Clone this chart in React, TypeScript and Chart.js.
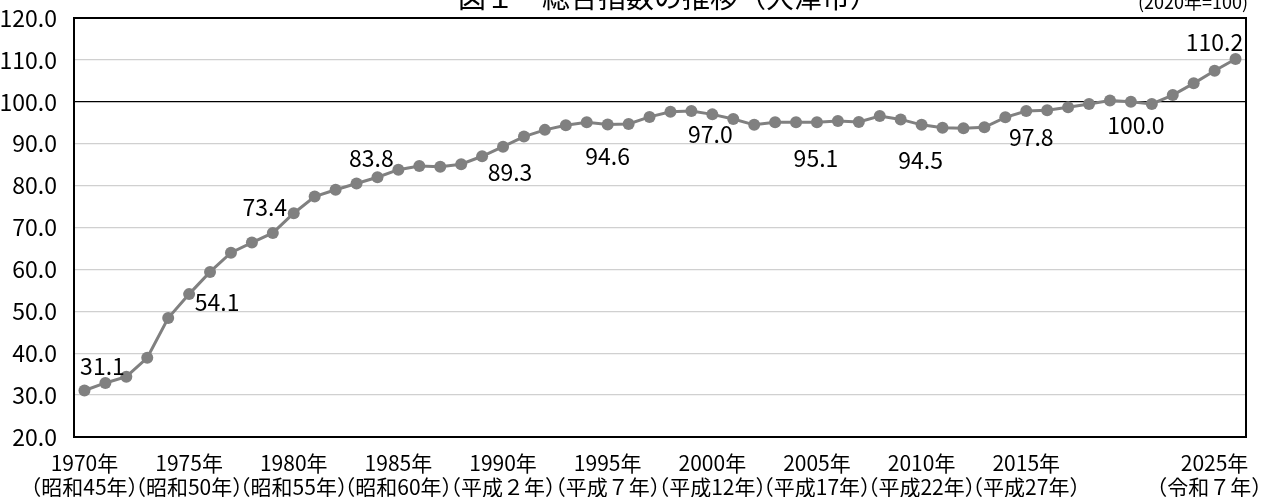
import { useEffect, useRef } from "react";
import { Chart, registerables } from "chart.js";

Chart.register(...registerables);

const YEARS = [
  1970, 1971, 1972, 1973, 1974, 1975, 1976, 1977, 1978, 1979,
  1980, 1981, 1982, 1983, 1984, 1985, 1986, 1987, 1988, 1989,
  1990, 1991, 1992, 1993, 1994, 1995, 1996, 1997, 1998, 1999,
  2000, 2001, 2002, 2003, 2004, 2005, 2006, 2007, 2008, 2009,
  2010, 2011, 2012, 2013, 2014, 2015, 2016, 2017, 2018, 2019,
  2020, 2021, 2022, 2023, 2024, 2025,
];

const INDEX = [
  31.1, 32.9, 34.4, 38.9, 48.4, 54.1, 59.4, 64.0, 66.4, 68.7,
  73.4, 77.4, 79.0, 80.5, 82.0, 83.8, 84.7, 84.5, 85.1, 87.0,
  89.3, 91.7, 93.3, 94.4, 95.1, 94.6, 94.7, 96.4, 97.6, 97.8,
  97.0, 95.9, 94.5, 95.1, 95.1, 95.1, 95.4, 95.2, 96.6, 95.8,
  94.5, 93.8, 93.7, 93.9, 96.3, 97.8, 98.0, 98.7, 99.5, 100.3,
  100.0, 99.5, 101.6, 104.4, 107.4, 110.2,
];

const TICK_YEARS = [1970, 1975, 1980, 1985, 1990, 1995, 2000, 2005, 2010, 2015, 2025];
const TICK_LINE1 = ["1970年", "1975年", "1980年", "1985年", "1990年", "1995年", "2000年", "2005年", "2010年", "2015年", "2025年"];
const TICK_LINE2 = ["（昭和45年）", "（昭和50年）", "（昭和55年）", "（昭和60年）", "（平成２年）", "（平成７年）", "（平成12年）", "（平成17年）", "（平成22年）", "（平成27年）", "（令和７年）"];

const LABEL_YEARS = [1970, 1975, 1980, 1985, 1990, 1995, 2000, 2005, 2010, 2015, 2020, 2025];

const Y_MIN = 20;
const Y_MAX = 120;
const Y_STEP = 10;

const TITLE = "図１　総合指数の推移（大津市）";
const SUBTITLE = "(2020年=100)";

// layout / style (not data)
const LABEL_OFFSETS: [number, number][] = [
  [18, -24], [28, 8], [-29, -6], [-27, -11], [7, 26], [0, 32],
  [-2, 20], [-1, 36], [-1, 35], [5, 26], [5, 23], [-21, -17],
];
const FONT = '"Noto Sans CJK JP", sans-serif';
const LINE_GRAY = "#808080";

const borderPlugin = {
  id: "plotBorder",
  beforeDatasetsDraw(chart: any) {
    const { ctx, chartArea: a } = chart;
    ctx.save();
    ctx.strokeStyle = "#000";
    ctx.lineWidth = 2;
    ctx.strokeRect(a.left, a.top, a.right - a.left, a.bottom - a.top);
    ctx.restore();
  },
};

const labelPlugin = {
  id: "valueLabels",
  afterDatasetsDraw(chart: any) {
    const meta = chart.getDatasetMeta(0);
    const ctx = chart.ctx;
    ctx.save();
    ctx.font = `23px ${FONT}`;
    ctx.fillStyle = "#000";
    ctx.textAlign = "center";
    ctx.textBaseline = "middle";
    LABEL_YEARS.forEach((yr, i) => {
      const idx = YEARS.indexOf(yr);
      const pt = meta.data[idx];
      const [dx, dy] = LABEL_OFFSETS[i];
      ctx.fillText(INDEX[idx].toFixed(1), pt.x + dx, pt.y + dy);
    });
    ctx.restore();
  },
};

const titlePlugin = {
  id: "topTitles",
  afterDraw(chart: any) {
    const ctx = chart.ctx;
    ctx.save();
    ctx.fillStyle = "#000";
    ctx.textBaseline = "alphabetic";
    ctx.font = `28px ${FONT}`;
    ctx.textAlign = "center";
    ctx.fillText(TITLE, chart.width / 2 + 35, 8);
    ctx.font = `18px ${FONT}`;
    ctx.textAlign = "right";
    ctx.fillText(SUBTITLE, chart.width - 18, 9);
    ctx.restore();
  },
};

export default function App() {
  const ref = useRef<HTMLCanvasElement>(null);

  useEffect(() => {
    if (!ref.current) return;
    const chart = new Chart(ref.current, {
      type: "line",
      data: {
        labels: YEARS.map(String),
        datasets: [
          {
            data: INDEX,
            borderColor: LINE_GRAY,
            backgroundColor: LINE_GRAY,
            borderWidth: 3,
            pointRadius: 6,
            pointBackgroundColor: LINE_GRAY,
            pointBorderWidth: 0,
            tension: 0,
          },
        ],
      },
      options: {
        responsive: false,
        animation: false,
        layout: { padding: { top: 18, right: 20, left: 0, bottom: 0 } },
        plugins: {
          legend: { display: false },
          tooltip: { enabled: false },
          title: { display: false },
        },
        scales: {
          x: {
            type: "category",
            offset: true,
            grid: { display: false, drawTicks: false },
            border: { display: true, color: "#000", width: 2 },
            ticks: {
              autoSkip: false,
              maxRotation: 0,
              minRotation: 0,
              padding: 14,
              color: "#000",
              font: { family: FONT, size: 21, lineHeight: 1.13 },
              callback: (_v: any, i: number) => {
                const k = TICK_YEARS.indexOf(YEARS[i]);
                if (k < 0) return null;
                if (k === TICK_YEARS.length - 1) {
                  return [TICK_LINE1[k] + "　　", TICK_LINE2[k] + "　　　"];
                }
                return [TICK_LINE1[k], TICK_LINE2[k]];
              },
            },
            afterFit: (s: any) => {
              s.height = 60;
              s.paddingLeft = 0;
              s.paddingRight = 0;
            },
          },
          y: {
            min: Y_MIN,
            max: Y_MAX,
            border: { display: true, color: "#000", width: 2 },
            grid: {
              drawTicks: false,
              color: (c: any) => (c.tick && (c.tick.value === 100 || c.tick.value === 120) ? "#000" : "#d0d0d0"),
              lineWidth: (c: any) => (c.tick && c.tick.value === 120 ? 2 : 1.3),
            },
            ticks: {
              stepSize: Y_STEP,
              padding: 17,
              color: "#000",
              font: { family: FONT, size: 23 },
              callback: (v: any) => Number(v).toFixed(1),
            },
            afterFit: (s: any) => {
              s.width = 74;
              s.paddingTop = 0;
              s.paddingBottom = 0;
            },
          },
        },
      },
      plugins: [borderPlugin, labelPlugin, titlePlugin],
    });
    return () => chart.destroy();
  }, []);

  return (
    <div style={{ position: "fixed", left: 0, top: 0, width: 1266, height: 497, background: "#fff" }}>
      <canvas ref={ref} width={1266} height={497} style={{ display: "block", width: 1266, height: 497 }} />
    </div>
  );
}
